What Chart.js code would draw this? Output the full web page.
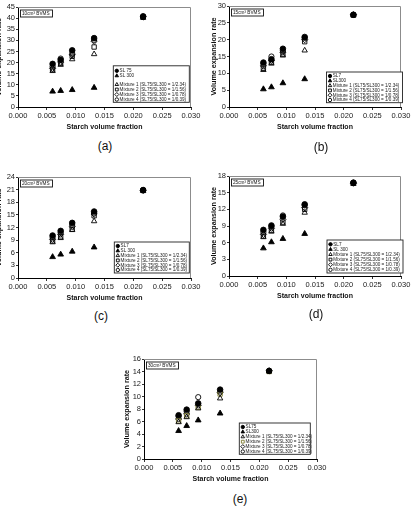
<!DOCTYPE html>
<html><head><meta charset="utf-8">
<script src="https://cdn.jsdelivr.net/npm/chart.js@4.4.1/dist/chart.umd.min.js"></script>
<style>
html,body{margin:0;padding:0;background:#fff;width:419px;height:513px;overflow:hidden;position:relative;}
canvas{position:absolute;}
.plabel{position:absolute;font-family:'Liberation Sans',Arial,sans-serif;font-size:12px;color:#111;transform:translate(-50%,-50%);white-space:nowrap;}
</style></head><body>
<script>
// ---- data ----
const xFraction = [0.0060, 0.0074, 0.0094, 0.0132, 0.0217];
const xFractionSL300 = [0.0060, 0.0074, 0.0094, 0.0132];
const xTickLabels = ['0.000','0.005','0.010','0.015','0.020','0.025','0.030'];
const mixtureNames = ['Mixture 1 (SL75/SL300 = 1/2.34)','Mixture 2 (SL75/SL300 = 1/1.56)','Mixture 3 (SL75/SL300 = 1/0.78)','Mixture 4 (SL75/SL300 = 1/0.39)'];
const pureNames = [['SL 75','SL 300'],['SL7','SL300'],['SL7','SL 300'],['SL7','SL 300'],['SL75','SL300']];
const panelTags = ['10cm³ BVMS','15cm³ BVMS','20cm³ BVMS','25cm³ BVMS','30cm³ BVMS'];
const panelLetters = ['(a)','(b)','(c)','(d)','(e)'];
const yMax = [45, 30, 24, 18, 16];
const yStep = [5, 5, 3, 3, 2];
const xTitle = 'Starch volume fraction';
const yTitle = 'Volume expansion rate';

// panel (a) 10 cm3
const a_SL75  = [19.4, 21.2, 25.5, 31.0, 40.8];
const a_SL300 = [7.0, 7.3, 7.7, 8.7];
const a_M1    = [16.2, 19.0, 21.5, 23.8, 40.2];
const a_M2    = [16.8, 19.6, 22.8, 27.0, 40.4];
const a_M3    = [17.4, 20.2, 23.5, 29.6, 40.5];
const a_M4    = [18.2, 21.8, 24.2, 30.2, 40.6];
// panel (b) 15 cm3
const b_SL75  = [13.2, 14.2, 17.3, 20.8, 27.4];
const b_SL300 = [5.3, 5.9, 7.1, 8.3];
const b_M1    = [11.0, 12.9, 15.3, 16.8, 27.2];
const b_M2    = [11.5, 13.3, 15.7, 19.4, 27.3];
const b_M3    = [12.2, 13.8, 16.3, 20.0, 27.4];
const b_M4    = [12.8, 15.0, 16.8, 20.5, 27.4];
// panel (c) 20 cm3
const c_SL75  = [10.1, 11.2, 13.1, 15.8, 20.9];
const c_SL300 = [5.0, 5.6, 6.3, 7.3];
const c_M1    = [8.5, 9.5, 11.4, 13.5, 20.7];
const c_M2    = [8.8, 9.8, 11.6, 14.8, 20.8];
const c_M3    = [9.2, 10.4, 12.2, 15.2, 20.8];
const c_M4    = [9.7, 10.8, 12.6, 15.5, 20.9];
// panel (d) 25 cm3
const d_SL75  = [8.3, 9.1, 10.7, 12.9, 16.8];
const d_SL300 = [5.0, 6.1, 6.7, 7.6];
const d_M1    = [7.0, 8.0, 9.4, 11.4, 16.6];
const d_M2    = [7.2, 8.2, 9.7, 12.0, 16.7];
const d_M3    = [7.5, 8.6, 10.2, 12.3, 16.7];
const d_M4    = [7.9, 8.9, 10.9, 12.7, 16.8];
// panel (e) 30 cm3
const e_SL75  = [7.0, 7.9, 8.9, 11.1, 14.1];
const e_SL300 = [4.5, 5.3, 6.2, 7.3];
const e_M1    = [5.9, 6.7, 8.1, 9.7, 14.0];
const e_M2    = [6.1, 6.9, 8.3, 10.4, 14.0];
const e_M3    = [6.4, 7.2, 8.6, 10.6, 14.1];
const e_M4    = [6.8, 7.6, 9.9, 10.8, 14.1];

const panelSeries = [
  [a_SL75, a_SL300, a_M1, a_M2, a_M3, a_M4],
  [b_SL75, b_SL300, b_M1, b_M2, b_M3, b_M4],
  [c_SL75, c_SL300, c_M1, c_M2, c_M3, c_M4],
  [d_SL75, d_SL300, d_M1, d_M2, d_M3, d_M4],
  [e_SL75, e_SL300, e_M1, e_M2, e_M3, e_M4]
];

// ---- layout (page pixels) ----
const FONT = "'Liberation Sans', Arial, sans-serif";
const areas = [
  {l:18, r:191, t:7, b:107, titleOff:19, letter:[105,146], lg:{x:95.3, w:76, h:36.5, gap:4.7, first:5, row:5, extra:3.7}},
  {l:229, r:401, t:6, b:107, titleOff:15, letter:[321,147], lg:{x:97.5, w:76, h:30.7, gap:4.3, first:4, row:4.8, extra:0}},
  {l:18, r:191, t:177, b:278, titleOff:19, letter:[101,316], lg:{x:96.3, w:75, h:31, gap:5, first:4, row:4.8, extra:0}},
  {l:229, r:401, t:176, b:276, titleOff:15, letter:[316,314], lg:{x:98, w:76, h:33, gap:3, first:4.3, row:5.1, extra:0}},
  {l:144, r:317, t:359, b:459, titleOff:17, letter:[240,499], lg:{x:95.3, w:71, h:31.3, gap:4.7, first:4, row:4.9, extra:0}}
];
const YW = 28, PADTOP = 6, PADRIGHT = 12, XH = 24;

const styles = [
  {pointStyle:'circle',   fill:true,  radius:2.8, lr:1.7},
  {pointStyle:'triangle', fill:true,  radius:3.3, lr:2.0},
  {pointStyle:'triangle', fill:false, radius:3.1, lr:2.0},
  {pointStyle:'rect',     fill:false, radius:3.1, lr:2.0},
  {pointStyle:'rectRot',  fill:false, radius:3.1, lr:2.0},
  {pointStyle:'circle',   fill:false, radius:2.6, lr:1.7}
];

const decor = {
  id: 'decor',
  beforeDatasetsDraw(chart, args, o) {
    const {ctx, chartArea: a} = chart;
    ctx.save();
    ctx.strokeStyle = '#8c8c8c'; ctx.lineWidth = 1;
    ctx.beginPath();
    ctx.moveTo(a.left, Math.round(a.top) + 0.5);
    ctx.lineTo(Math.round(a.right) - 0.5, Math.round(a.top) + 0.5);
    ctx.lineTo(Math.round(a.right) - 0.5, a.bottom);
    ctx.stroke();
    // tag box
    const bx = a.left + 2.5, by = a.top + 3, bw = 32, bh = 7;
    ctx.strokeStyle = '#111'; ctx.lineWidth = 0.9;
    ctx.strokeRect(bx, by, bw, bh);
    ctx.fillStyle = '#111';
    ctx.font = '4.7px ' + FONT;
    ctx.textBaseline = 'middle'; ctx.textAlign = 'left';
    ctx.fillText(o.tag, bx + 1.5, by + bh / 2 + 0.2);
    ctx.restore();
  },
  afterDatasetsDraw(chart, args, o) {
    const {ctx, chartArea: a} = chart;
    const lg = o.lg;
    const lx = a.left + lg.x, ly = a.bottom - lg.gap - lg.h;
    ctx.save();
    ctx.fillStyle = '#fff';
    ctx.fillRect(lx, ly, lg.w, lg.h);
    ctx.strokeStyle = '#222'; ctx.lineWidth = 0.9;
    ctx.strokeRect(lx, ly, lg.w, lg.h);
    ctx.font = '4.6px ' + FONT;
    ctx.textBaseline = 'middle'; ctx.textAlign = 'left';
    chart.data.datasets.forEach((ds, i) => {
      const st = styles[i];
      const y = ly + lg.first + i * lg.row + (i >= 2 ? lg.extra : 0);
      ctx.fillStyle = st.fill ? ds.borderColor : 'rgba(0,0,0,0)';
      ctx.strokeStyle = ds.borderColor;
      Chart.helpers.drawPoint(ctx, {pointStyle: st.pointStyle, radius: st.lr, borderWidth: 0.7, rotation: 0}, lx + 3.5, y);
      ctx.fillStyle = '#1a1a1a';
      ctx.fillText(ds.label, lx + 6.3, y + 0.2);
    });
    ctx.restore();
  }
};

areas.forEach((A, p) => {
  const cv = document.createElement('canvas');
  const left = A.l - YW, top = A.t - PADTOP;
  const W = A.r - A.l + YW + PADRIGHT, H = A.b - A.t + PADTOP + XH;
  cv.width = W; cv.height = H;
  cv.style.left = left + 'px'; cv.style.top = top + 'px';
  cv.style.width = W + 'px'; cv.style.height = H + 'px';
  document.body.appendChild(cv);

  const lab = document.createElement('div');
  lab.className = 'plabel';
  lab.style.left = A.letter[0] + 'px'; lab.style.top = A.letter[1] + 'px';
  lab.textContent = panelLetters[p];
  document.body.appendChild(lab);

  const names = pureNames[p].concat(mixtureNames);
  const datasets = panelSeries[p].map((vals, i) => {
    const xs = i === 1 ? xFractionSL300 : xFraction;
    const col = (p === 4 && i === 3) ? '#7d7a2e' : '#000';
    const st = styles[i];
    return {
      label: names[i],
      data: vals.map((v, k) => ({x: xs[k], y: v})),
      pointStyle: st.pointStyle,
      pointRadius: st.radius,
      pointHoverRadius: st.radius,
      borderWidth: 0.9,
      borderColor: col,
      backgroundColor: st.fill ? col : 'rgba(0,0,0,0)',
      showLine: false
    };
  });

  new Chart(cv, {
    type: 'scatter',
    data: {datasets},
    options: {
      responsive: false,
      animation: false,
      devicePixelRatio: 1,
      layout: {padding: {top: PADTOP, right: PADRIGHT, left: 0, bottom: 0}},
      plugins: {legend: {display: false}, tooltip: {enabled: false},
                decor: {tag: panelTags[p], lg: A.lg}},
      scales: {
        x: {
          type: 'linear', min: 0, max: 0.03,
          afterFit(s) { s.height = XH; },
          ticks: {stepSize: 0.005, maxRotation: 0, autoSkip: false, padding: 1.5, color: '#1a1a1a',
                  font: {family: FONT, size: 7.5},
                  callback: (v, i) => xTickLabels[i] !== undefined ? xTickLabels[i] : Number(v).toFixed(3)},
          grid: {display: true, drawOnChartArea: false, drawTicks: true, tickLength: 3, color: '#000', lineWidth: 0.8},
          border: {display: true, color: '#000', width: 1},
          title: {display: true, text: xTitle, color: '#111', padding: {top: 0, bottom: 0},
                  font: {family: FONT, size: 7, weight: 'bold'}}
        },
        y: {
          type: 'linear', min: 0, max: yMax[p],
          afterFit(s) { s.width = YW; },
          ticks: {stepSize: yStep[p], autoSkip: false, maxTicksLimit: 20, padding: 1, color: '#1a1a1a', font: {family: FONT, size: 7.5}},
          grid: {display: true, drawOnChartArea: false, drawTicks: true, tickLength: 2, color: '#000', lineWidth: 0.8},
          border: {display: true, color: '#000', width: 1},
          title: {display: true, text: yTitle, color: '#111',
                  padding: {top: YW - A.titleOff - 4.2, bottom: 0},
                  font: {family: FONT, size: 7.2, weight: 'bold'}}
        }
      }
    },
    plugins: [decor]
  });
});
</script>
</body></html>
